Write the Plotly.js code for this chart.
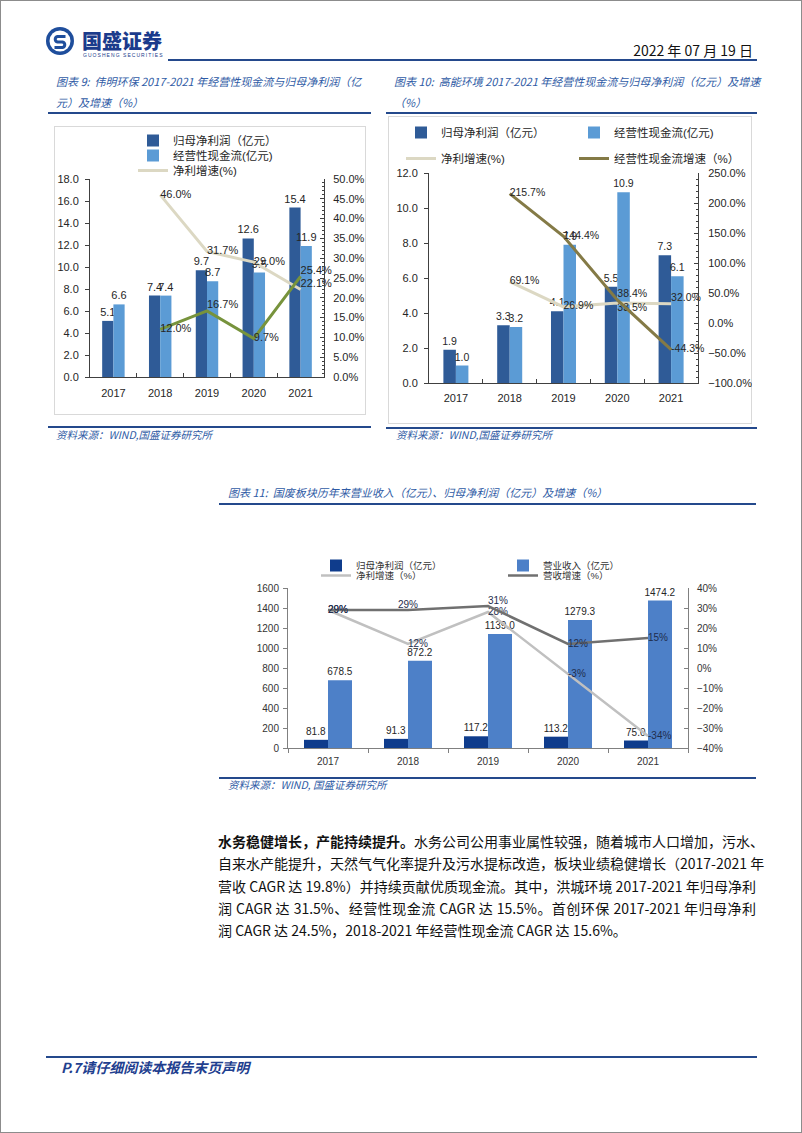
<!DOCTYPE html>
<html>
<head>
<meta charset="utf-8">
<script src="https://cdn.plot.ly/plotly-3.0.1.min.js"></script>
<style>
  body { margin: 0; background: #fff; }
  #page { position: relative; width: 802px; height: 1133px; border: 1px solid #8c8c8c; box-sizing: border-box; overflow: hidden;
          font-family: "Noto Sans CJK SC", sans-serif; }
  .abs { position: absolute; }
  .rule { position: absolute; background: #24498c; height: 2px; }
  .ttl { position: absolute; font-size: 11px; line-height: 21px; color: #2f5ba5; font-style: italic; white-space: nowrap; }
  .src { position: absolute; font-size: 10.5px; line-height: 16px; color: #2f5ba5; font-style: italic; white-space: nowrap; padding-right: 4px; }
  .box { position: absolute; border: 1px solid #d9d9d9; box-sizing: border-box; }
  .para div { height: 22.3px; line-height: 22.3px; font-size: 14px; color: #111; white-space: nowrap;
              text-align: justify; text-align-last: justify; }
  .para div.last { text-align-last: left; }
</style>
</head>
<body>
<div id="page">
  <!-- header -->
  <svg class="abs" style="left:44px;top:25px" width="30" height="30" viewBox="0 0 30 30">
    <circle cx="15" cy="15" r="14" fill="#1f4e9c"/>
    <circle cx="15" cy="15" r="10.5" fill="#fff"/>
    <path d="M20.5 10.5 H12.5 A2.8 2.8 0 0 0 12.5 16 H17.5 A2.8 2.8 0 0 1 17.5 21.5 H9.5" stroke="#1f4e9c" stroke-width="3" fill="none"/>
  </svg>
  <div class="abs" style="left:81px;top:27px;font-size:20px;line-height:26px;font-weight:900;color:#1b3b8c;white-space:nowrap">国盛证券</div>
  <div class="abs" style="left:82px;top:51px;font-size:5px;line-height:6px;letter-spacing:1.05px;color:#1b3b8c;font-family:'Liberation Sans';white-space:nowrap">GUOSHENG SECURITIES</div>
  <div class="abs" style="right:48px;top:39px;font-size:14px;line-height:20px;color:#111;white-space:nowrap">2022 年 07 月 19 日</div>
  <div class="rule" style="left:167px;top:58px;width:589px"></div>

  <!-- 图表 9 -->
  <div class="ttl" style="left:55px;top:70px">图表 9:&nbsp; 伟明环保 2017-2021 年经营性现金流与归母净利润（亿<br>元）及增速（%）</div>
  <div class="rule" style="left:47px;top:111px;width:323px"></div>
  <div class="box" style="left:53px;top:125px;width:312px;height:289px"></div>
  <div id="c9" class="abs" style="left:53px;top:125px;width:312px;height:289px"></div>
  <div class="rule" style="left:47px;top:425px;width:323px"></div>
  <div class="src" style="left:55px;top:426px">资料来源：WIND,国盛证券研究所</div>

  <!-- 图表 10 -->
  <div class="ttl" style="left:393px;top:70px">图表 10:&nbsp; 高能环境 2017-2021 年经营性现金流与归母净利润（亿元）及增速<br>（%）</div>
  <div class="rule" style="left:385px;top:111px;width:371px"></div>
  <div class="box" style="left:387px;top:115px;width:364px;height:308px"></div>
  <div id="c10" class="abs" style="left:387px;top:115px;width:364px;height:308px"></div>
  <div class="rule" style="left:385px;top:426px;width:371px"></div>
  <div class="src" style="left:395px;top:426px">资料来源：WIND,国盛证券研究所</div>

  <!-- 图表 11 -->
  <div class="ttl" style="left:227px;top:481px">图表 11:&nbsp; 国废板块历年来营业收入（亿元）、归母净利润（亿元）及增速（%）</div>
  <div class="rule" style="left:218px;top:502px;width:537px"></div>
  <div id="c11" class="abs" style="left:218px;top:510px;width:537px;height:265px"></div>
  <div class="rule" style="left:218px;top:776px;width:537px"></div>
  <div class="src" style="left:227px;top:776px">资料来源：WIND, 国盛证券研究所</div>

  <!-- 正文 -->
  <div class="para abs" style="left:217px;top:829px;width:538px">
    <div><b>水务稳健增长，产能持续提升。</b>水务公司公用事业属性较强，随着城市人口增加，污水、</div>
    <div>自来水产能提升，天然气气化率提升及污水提标改造，板块业绩稳健增长（2017-2021 年</div>
    <div>营收 CAGR 达 19.8%）并持续贡献优质现金流。其中，洪城环境 2017-2021 年归母净利</div>
    <div>润 CAGR 达 31.5%、经营性现金流 CAGR 达 15.5%。首创环保 2017-2021 年归母净利</div>
    <div class="last">润 CAGR 达 24.5%，2018-2021 年经营性现金流 CAGR 达 15.6%。</div>
  </div>

  <!-- footer -->
  <div class="rule" style="left:45px;top:1055px;width:711px"></div>
  <div class="abs" style="left:60px;top:1057px;font-size:14px;line-height:18px;font-weight:700;font-style:italic;color:#1f3f8f;white-space:nowrap">P.7请仔细阅读本报告末页声明</div>
</div>

<script>
const FONT = '"Liberation Sans", "Noto Sans CJK SC", sans-serif';

const years = ['2017', '2018', '2019', '2020', '2021'];
const growthYears = ['2018', '2019', '2020', '2021'];

// 图表9 伟明环保
const wmProfit = [5.1, 7.4, 9.7, 12.6, 15.4];
const wmCash = [6.6, 7.4, 8.7, 9.5, 11.9];
const wmProfitGrowth = [46.0, 31.7, 29.0, 22.1];
const wmCashGrowth = [12.0, 16.7, 9.7, 25.4];

// 图表10 高能环境
const gnProfit = [1.9, 3.3, 4.1, 5.5, 7.3];
const gnCash = [1.0, 3.2, 7.9, 10.9, 6.1];
const gnProfitGrowth = [69.1, 26.9, 33.5, 32.0];
const gnCashGrowth = [215.7, 144.4, 38.4, -44.3];

// 图表11 国废板块
const gfProfit = [81.8, 91.3, 117.2, 113.2, 75.0];
const gfRevenue = [678.5, 872.2, 1139.0, 1279.3, 1474.2];
const gfProfitGrowth = [29, 12, 28, -3, -34];
const gfRevenueGrowth = [29, 29, 31, 12, 15];

const cfg = {displayModeBar: false, staticPlot: true};
const clear = 'rgba(0,0,0,0)';

function barTrace(x, y, name, color, size, legend) {
  return {type: 'bar', x: x, y: y, name: name, marker: {color: color},
          texttemplate: '%{y:.1f}', textposition: 'outside', constraintext: 'none', cliponaxis: false,
          textfont: {size: size, color: '#262626'}, legend: legend};
}
function lineTrace(x, y, name, color, width, pos, fmt, size, legend) {
  return {type: 'scatter', mode: 'lines+text', x: x, y: y, name: name, yaxis: 'y2',
          line: {color: color, width: width}, texttemplate: fmt, textposition: pos, cliponaxis: false,
          textfont: {size: size, color: '#262626'}, legend: legend};
}
// one legend box per entry, placed by pixel offset inside the chart div
function leg(w, h, left, top, size) {
  return {xref: 'container', yref: 'container', x: left / w, y: 1 - top / h, xanchor: 'left', yanchor: 'top',
          orientation: 'h', bgcolor: clear, font: {size: size}, visible: true};
}

// ---------- 图表9 ----------
const c9Data = [
  barTrace(years, wmProfit, '归母净利润（亿元）', '#2f5b97', 11, 'legend'),
  barTrace(years, wmCash, '经营性现金流(亿元)', '#5b9bd5', 11, 'legend2'),
  lineTrace(growthYears, wmProfitGrowth, '净利增速(%)', '#dcd8c3', 3,
            ['middle right', 'middle right', 'middle right', 'top right'], '%{y:.1f}%', 11, 'legend3'),
  lineTrace(growthYears, wmCashGrowth, '经营性现金流增速(%)', '#77933c', 3,
            ['middle right', 'top right', 'middle right', 'top right'], '%{y:.1f}%', 11, 'legend3')
];
c9Data[3].showlegend = false;

Plotly.newPlot('c9', c9Data, {
  width: 312, height: 289, showlegend: true,
  margin: {l: 36, r: 42, t: 53, b: 38, autoexpand: false},
  paper_bgcolor: clear, plot_bgcolor: clear,
  font: {family: FONT, size: 11, color: '#262626'},
  barmode: 'group', bargap: 0.52, bargroupgap: 0,
  legend: leg(312, 289, 79, 0, 11.5),
  legend2: leg(312, 289, 79, 15, 11.5),
  legend3: leg(312, 289, 79, 30, 11.5),
  xaxis: {type: 'category', showline: true, linecolor: '#404040', ticks: 'inside', tickson: 'boundaries',
          ticklen: 4, tickcolor: '#404040', showgrid: false, zeroline: false, tickangle: 0, ticklabelstandoff: 6},
  yaxis: {range: [0, 18], dtick: 2, tickformat: '.1f', showline: true, linecolor: '#404040', ticks: 'outside',
          ticklen: 4, tickcolor: '#404040', showgrid: false, zeroline: false, ticklabelstandoff: 4},
  yaxis2: {overlaying: 'y', side: 'right', range: [0, 50], dtick: 5, tickformat: '.1f', ticksuffix: '%',
           showline: true, linecolor: '#404040', ticks: 'inside', ticklen: 4, tickcolor: '#404040',
           minor: {ticks: 'inside', ticklen: 2, dtick: 1, tickcolor: '#404040'}, showgrid: false, zeroline: false,
           ticklabelstandoff: 6}
}, cfg);

// ---------- 图表10 ----------
const c10Data = [
  barTrace(years, gnProfit, '归母净利润（亿元）', '#2f5b97', 10.5, 'legend'),
  barTrace(years, gnCash, '经营性现金流(亿元)', '#5b9bd5', 10.5, 'legend2'),
  lineTrace(growthYears, gnProfitGrowth, '净利增速(%)', '#dcd8c3', 3,
            ['middle right', 'middle right', 'bottom right', 'top right'], '%{y:.1f}%', 10.5, 'legend3'),
  lineTrace(growthYears, gnCashGrowth, '经营性现金流增速（%）', '#847a46', 3,
            ['middle right', 'middle right', 'top right', 'middle right'], '%{y:.1f}%', 10.5, 'legend4')
];

Plotly.newPlot('c10', c10Data, {
  width: 364, height: 308, showlegend: true,
  margin: {l: 41, r: 54, t: 57, b: 41, autoexpand: false},
  paper_bgcolor: clear, plot_bgcolor: clear,
  font: {family: FONT, size: 11, color: '#262626'},
  barmode: 'group', bargap: 0.535, bargroupgap: 0,
  legend: leg(364, 308, 13, 2, 11.5),
  legend2: leg(364, 308, 186, 2, 11.5),
  legend3: leg(364, 308, 13, 28, 11.5),
  legend4: leg(364, 308, 186, 28, 11.5),
  xaxis: {type: 'category', showline: true, linecolor: '#404040', ticks: 'inside', tickson: 'boundaries',
          ticklen: 4, tickcolor: '#404040', showgrid: false, zeroline: false, tickangle: 0, ticklabelstandoff: 5},
  yaxis: {range: [0, 12], dtick: 2, tickformat: '.1f', showline: true, linecolor: '#404040', ticks: 'outside',
          ticklen: 4, tickcolor: '#404040', showgrid: false, zeroline: false, ticklabelstandoff: 4},
  yaxis2: {overlaying: 'y', side: 'right', range: [-100, 250], dtick: 50, tickformat: '.1f', ticksuffix: '%',
           showline: true, linecolor: '#404040', ticks: 'inside', ticklen: 4, tickcolor: '#404040',
           minor: {ticks: 'inside', ticklen: 2, dtick: 10, tickcolor: '#404040'}, showgrid: false, zeroline: false,
           ticklabelstandoff: 7}
}, cfg);

// ---------- 图表11 ----------
const c11Data = [
  barTrace(years, gfProfit, '归母净利润（亿元）', '#0f3c8c', 10, 'legend'),
  barTrace(years, gfRevenue, '营业收入（亿元）', '#4d80c8', 10, 'legend2'),
  lineTrace(years, gfProfitGrowth, '净利增速（%）', '#c0c0c0', 2.5,
            ['middle right', 'middle right', 'middle right', 'middle right', 'middle right'], '%{y:.0f}%', 10, 'legend3'),
  lineTrace(years, gfRevenueGrowth, '营收增速（%）', '#707070', 2.5,
            ['middle right', 'top center', 'top right', 'middle right', 'middle right'], '%{y:.0f}%', 10, 'legend4')
];
c11Data[2].textfont.color = '#1f2d4d';
c11Data[3].textfont.color = '#1f2d4d';

Plotly.newPlot('c11', c11Data, {
  width: 537, height: 265, showlegend: true,
  margin: {l: 69, r: 68, t: 77, b: 28, autoexpand: false},
  paper_bgcolor: clear, plot_bgcolor: clear,
  font: {family: FONT, size: 10, color: '#333'},
  barmode: 'group', bargap: 0.4, bargroupgap: 0,
  legend: leg(537, 265, 97, 40, 9.5),
  legend2: leg(537, 265, 284, 40, 9.5),
  legend3: leg(537, 265, 97, 50, 9.5),
  legend4: leg(537, 265, 284, 50, 9.5),
  xaxis: {type: 'category', showline: true, linecolor: '#808080', ticks: 'outside', tickson: 'boundaries',
          ticklen: 4, tickcolor: '#808080', showgrid: false, zeroline: false, tickangle: 0, ticklabelstandoff: 4},
  yaxis: {range: [0, 1600], dtick: 200, showline: true, linecolor: '#808080', ticks: 'outside',
          ticklen: 4, tickcolor: '#808080', showgrid: false, zeroline: false, ticklabelstandoff: 2},
  yaxis2: {overlaying: 'y', side: 'right', range: [-40, 40], dtick: 10, ticksuffix: '%',
           showline: true, linecolor: '#808080', ticks: 'inside', ticklen: 4, tickcolor: '#808080',
           showgrid: false, zeroline: false, ticklabelstandoff: 6}
}, cfg);
</script>
</body>
</html>
